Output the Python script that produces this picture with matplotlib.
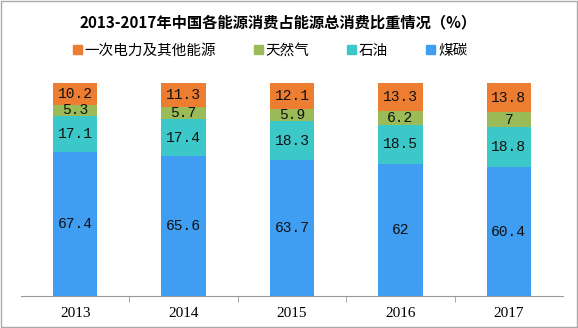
import numpy as np
import matplotlib.pyplot as plt
from matplotlib.patches import Rectangle, Patch

plt.rcParams['font.family'] = ['Noto Sans CJK SC', 'DejaVu Sans']

years = ['2013', '2014', '2015', '2016', '2017']
series_names = ['一次电力及其他能源', '天然气', '石油', '煤碳']
coal = [67.4, 65.6, 63.7, 62, 60.4]
oil = [17.1, 17.4, 18.3, 18.5, 18.8]
gas = [5.3, 5.7, 5.9, 6.2, 7]
other = [10.2, 11.3, 12.1, 13.3, 13.8]

colors = {'煤碳': '#3f9df2', '石油': '#3cc8c8', '天然气': '#9bbb59',
          '一次电力及其他能源': '#ed7d31'}

fig = plt.figure(figsize=(5.78, 3.28), dpi=100)
ax = fig.add_axes([21 / 578, 32 / 328, 542 / 578, 213 / 328])

x = np.arange(len(years))
stack = [('煤碳', coal), ('石油', oil), ('天然气', gas), ('一次电力及其他能源', other)]
bottom = np.zeros(len(years))
for name, vals in stack:
    vals = np.array(vals, dtype=float)
    ax.bar(x, vals, width=0.41, bottom=bottom, color=colors[name], linewidth=0)
    for xi, b, v in zip(x, bottom, vals):
        lab = f'{v:g}'
        ax.text(xi, b + v / 2, lab, ha='center', va='center', fontsize=10.5,
                family=['Liberation Mono', 'DejaVu Sans Mono'], color='#111111')
    bottom += vals

ax.set_xlim(-0.5, len(years) - 0.5)
ax.set_ylim(0, 100)
ax.set_yticks([])
for s in ['left', 'right', 'top']:
    ax.spines[s].set_visible(False)
ax.spines['bottom'].set_color('#999999')
ax.set_xticks(x)
ax.set_xticklabels(years, family=['Liberation Serif', 'DejaVu Serif'], fontsize=11)
ax.tick_params(axis='x', length=0, pad=8)
ax.set_xticks(np.arange(0.5, len(years) - 0.5, 1), minor=True)
ax.tick_params(axis='x', which='minor', length=4, color='#999999', direction='out')

fig.text(278 / 578, 1 - 22 / 328, '2013-2017年中国各能源消费占能源总消费比重情况（%）',
         ha='center', va='center', fontsize=11, fontweight='bold')

handles = [Patch(color=colors[n]) for n in series_names]
fig.legend(handles, series_names, loc='center', bbox_to_anchor=(270 / 578, 1 - 51 / 328),
           ncol=4, frameon=False, fontsize=10.5, handlelength=0.6, handleheight=0.6,
           handletextpad=0.2, columnspacing=2.6)

fig.patches.append(Rectangle((0.002, 0.003), 0.996, 0.994, transform=fig.transFigure,
                             fill=False, edgecolor='#aaaaaa', linewidth=1))

fig.savefig('out.png', dpi=100)
